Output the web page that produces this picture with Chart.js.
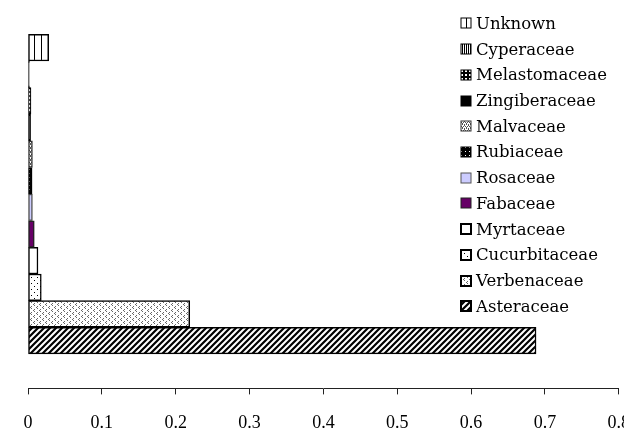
<!DOCTYPE html>
<html>
<head>
<meta charset="utf-8">
<script src="https://cdn.jsdelivr.net/npm/chart.js@4/dist/chart.umd.min.js"></script>
<style>
  html, body { margin: 0; padding: 0; background: #fff; overflow: hidden; }
  #wrap { position: relative; width: 624px; height: 434px; overflow: hidden; }
  #legend { position: absolute; left: 460px; top: 10.5px; font-family: "DejaVu Serif", serif; font-size: 16.5px; color: #000; }
  .row { display: flex; align-items: center; height: 25.73px; white-space: nowrap; }
  .row canvas { margin-right: 4px; }
</style>
</head>
<body>
<div id="wrap">
  <canvas id="chart" width="648" height="452"></canvas>
  <div id="legend"></div>
</div>
<script>
// families, top of the chart first
const families = ['Unknown', 'Cyperaceae', 'Melastomaceae', 'Zingiberaceae', 'Malvaceae', 'Rubiaceae',
  'Rosaceae', 'Fabaceae', 'Myrtaceae', 'Cucurbitaceae', 'Verbenaceae', 'Asteraceae'];
const shares = [0.028, 0.002, 0.004, 0.0035, 0.006, 0.0055, 0.006, 0.0085, 0.0135, 0.018, 0.219, 0.688];
const xTicks = [0, 0.1, 0.2, 0.3, 0.4, 0.5, 0.6, 0.7, 0.8];

// fill style per family (pattern name or plain colour)
const fills = ['vlines', 'vdense', 'grid', '#000000', 'fine', 'darkdots', '#ccccff', '#660066', '#ffffff', 'sparse', 'chevron', 'diag'];
const edges = ['#000', '#000', '#000', '#000', '#333', '#000', '#555', '#222', '#000', '#000', '#000', '#000'];

function tile(size, draw) {
  const c = document.createElement('canvas');
  c.width = size; c.height = size;
  const g = c.getContext('2d');
  g.fillStyle = '#fff';
  g.fillRect(0, 0, size, size);
  draw(g, size);
  return c;
}

function dots(g, color, pts) {
  g.fillStyle = color;
  pts.forEach(p => g.fillRect(p[0], p[1], 1, 1));
}

const tiles = {
  vlines: tile(7, g => { g.fillStyle = '#000'; g.fillRect(6, 0, 1, 7); }),
  vdense: tile(2, g => { g.fillStyle = '#000'; g.fillRect(0, 0, 1, 2); }),
  grid: tile(4, g => { g.fillStyle = '#000'; g.fillRect(0, 0, 4, 4); g.fillStyle = '#fff'; g.fillRect(1, 1, 2, 2); }),
  fine: tile(4, g => dots(g, '#555', [[0, 0], [2, 0], [1, 2], [3, 2], [0, 1], [2, 3]])),
  darkdots: tile(4, g => { g.fillStyle = '#000'; g.fillRect(0, 0, 4, 4); g.fillStyle = '#fff'; g.fillRect(1, 1, 1, 1); }),
  sparse: tile(6, g => dots(g, '#000', [[1, 1], [4, 4]])),
  chevron: tile(6, g => dots(g, '#666', [[1, 0], [0, 1], [1, 2], [4, 3], [3, 4], [4, 5]])),
  diag: tile(6, g => {
    g.strokeStyle = '#000';
    g.lineWidth = 2.2;
    g.beginPath();
    g.moveTo(0, 6); g.lineTo(6, 0);
    g.moveTo(-1, 1); g.lineTo(1, -1);
    g.moveTo(5, 7); g.lineTo(7, 5);
    g.stroke();
  })
};

function fillFor(ctx, kind) {
  return tiles[kind] ? ctx.createPattern(tiles[kind], 'repeat') : kind;
}

const ctx = document.getElementById('chart').getContext('2d');
const last = families.length - 1;

const datasets = families.map((name, i) => ({
  label: name,
  data: [{ x: shares[i], y: last - i }],
  backgroundColor: fillFor(ctx, fills[i]),
  borderColor: edges[i],
  borderWidth: 1.5,
  borderSkipped: false,
  grouped: false,
  barPercentage: 1,
  categoryPercentage: 1
}));

const chart = new Chart(ctx, {
  type: 'bar',
  data: { datasets },
  options: {
    indexAxis: 'y',
    responsive: false,
    animation: false,
    devicePixelRatio: 1,
    layout: { padding: { left: 28, top: 19, right: 0, bottom: 0 } },
    plugins: { legend: { display: false }, tooltip: { enabled: false } },
    scales: {
      x: {
        type: 'linear',
        min: 0,
        max: 0.8,
        afterBuildTicks: s => { s.ticks = xTicks.map(v => ({ value: v })); },
        ticks: {
          callback: v => String(v),
          color: '#000',
          padding: 18,
          maxRotation: 0,
          autoSkip: false,
          font: { family: 'Liberation Serif', size: 18 }
        },
        grid: { drawOnChartArea: false, drawTicks: true, tickLength: 6, color: '#222' },
        border: { display: true, color: '#222', width: 1 }
      },
      y: {
        type: 'linear',
        display: false,
        min: -1.22,
        max: 11.5,
        afterBuildTicks: s => { s.ticks = families.map((_, i) => ({ value: i })); }
      }
    }
  }
});

// legend drawn as html over the plot, like the original
const legend = document.getElementById('legend');
families.forEach((name, i) => {
  const row = document.createElement('div');
  row.className = 'row';
  const sw = document.createElement('canvas');
  sw.width = 12; sw.height = 12;
  const g = sw.getContext('2d');
  g.fillStyle = fillFor(g, fills[i]);
  g.fillRect(1, 1, 10, 10);
  g.strokeStyle = edges[i];
  g.lineWidth = (i >= 8) ? 2 : 1;
  g.strokeRect(1, 1, 10, 10);
  const label = document.createElement('span');
  label.textContent = name;
  row.appendChild(sw);
  row.appendChild(label);
  legend.appendChild(row);
});
</script>
</body>
</html>
